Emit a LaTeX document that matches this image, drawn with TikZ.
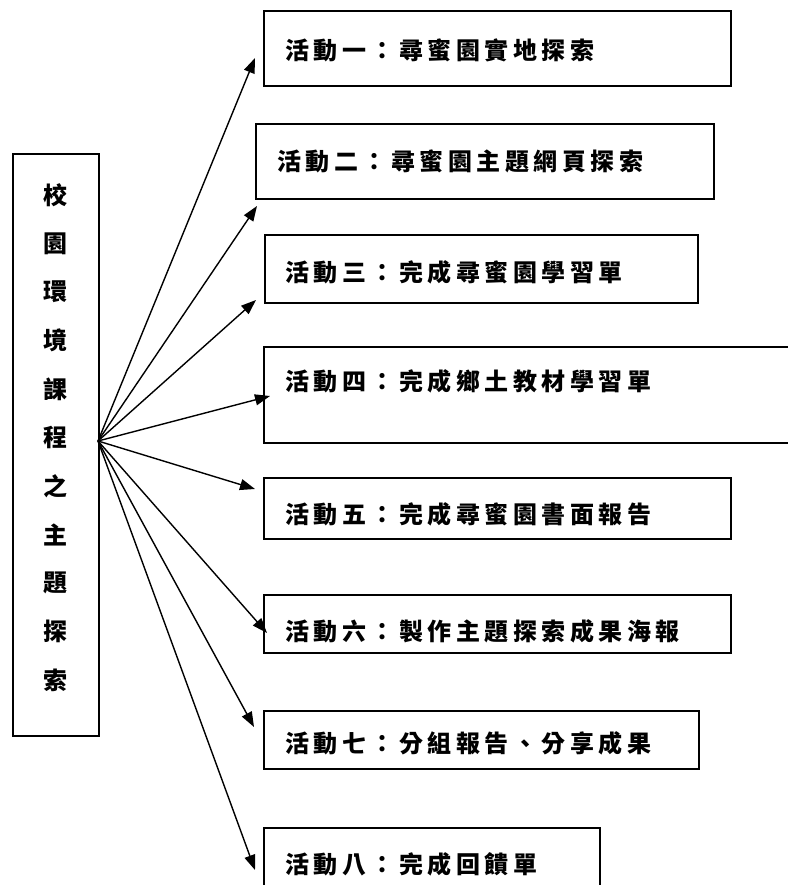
\documentclass[tikz,border=0pt]{standalone}
\usepackage{fontspec}
\newfontfamily\cjk{Noto Sans CJK TC}
\usetikzlibrary{arrows.meta}
\newlength\cpitch
\setlength\cpitch{28.5pt}
\def\spreadloop#1{\ifx\relax#1\else\makebox[\cpitch][l]{#1}\expandafter\spreadloop\fi}
\newcommand\spreadtext[1]{\spreadloop#1\relax}
\newcommand\cjkfont{\cjk\bfseries\fontsize{24pt}{27pt}\selectfont}
\begin{document}
\begin{tikzpicture}[x=1pt,y=-1pt,
  box/.style={draw,line width=1.8pt,rectangle,inner sep=0pt,anchor=north west},
  lbl/.style={anchor=west,inner sep=0pt,font=\cjkfont},
  col/.style={inner sep=0pt,font=\cjkfont},
  arr/.style={line width=1.4pt,-{Triangle[length=15pt,width=11pt]}}]
\useasboundingbox (0,0) rectangle (787,885);
% main column
\node[box,minimum width=86pt,minimum height=582pt] (main) at (12,153) {};
\foreach \ch [count=\i from 0] in {校,園,環,境,課,程,之,主,題,探,索}
  \node[col] (c\i) at (55,195+48.5*\i) {\ch};
% activity boxes
\node[box,minimum width=467pt,minimum height=75pt] (b1) at (263,10) {};
\node[box,minimum width=458pt,minimum height=75pt] (b2) at (255,123) {};
\node[box,minimum width=433pt,minimum height=68pt] (b3) at (264,234) {};
\node[box,minimum width=540pt,minimum height=96pt] (b4) at (263,346) {};
\node[box,minimum width=467pt,minimum height=61pt] (b5) at (263,477) {};
\node[box,minimum width=467pt,minimum height=58pt] (b6) at (263,594) {};
\node[box,minimum width=435pt,minimum height=58pt] (b7) at (263,710) {};
\node[box,minimum width=336pt,minimum height=70pt] (b8) at (263,827) {};
% labels
\node[lbl] (t1) at (285,50) {\spreadtext{活動一：尋蜜園實地探索}};
\node[lbl] (t2) at (277,161) {\spreadtext{活動二：尋蜜園主題網頁探索}};
\node[lbl] (t3) at (285,272) {\spreadtext{活動三：完成尋蜜園學習單}};
\node[lbl] (t4) at (285,381) {\spreadtext{活動四：完成鄉土教材學習單}};
\node[lbl] (t5) at (285,514) {\spreadtext{活動五：完成尋蜜園書面報告}};
\node[lbl] (t6) at (285,631) {\spreadtext{活動六：製作主題探索成果海報}};
\node[lbl] (t7) at (285,743) {\spreadtext{活動七：分組報告、分享成果}};
\node[lbl] (t8) at (285,864) {\spreadtext{活動八：完成回饋單}};
% arrows
\coordinate (src) at (98,441);
\coordinate (p1) at (255,58);
\coordinate (p2) at (257,206);
\coordinate (p3) at (256,300);
\coordinate (p4) at (270,396);
\coordinate (p5) at (255,489);
\coordinate (p6) at (267,633);
\coordinate (p7) at (254,727);
\coordinate (p8) at (255,870);
\foreach \k in {1,...,8}
  \draw[arr] (src) -- (p\k);
\end{tikzpicture}
\end{document}
